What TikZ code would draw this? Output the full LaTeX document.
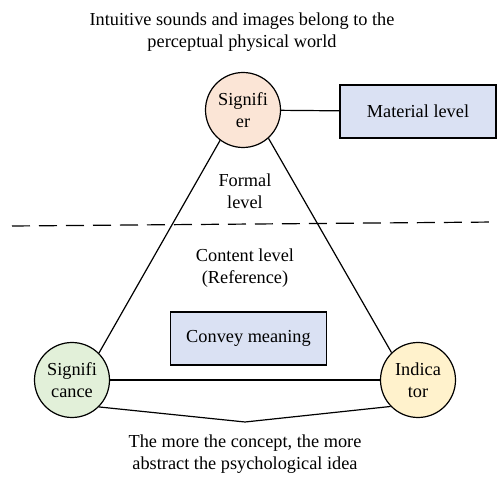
\documentclass[tikz,border=0pt]{standalone}
\usepackage{fontspec}
\setmainfont{Liberation Serif}
\usepackage{tikz}

\definecolor{peach}{HTML}{FBE5D6}
\definecolor{palegreen}{HTML}{E2F0D9}
\definecolor{paleyellow}{HTML}{FFF2CC}
\definecolor{paleblue}{HTML}{DAE1F3}

\begin{document}
\begin{tikzpicture}[x=1pt, y=1pt, line width=1.2pt,
    font=\fontsize{18.3}{22.5}\selectfont,
    sign/.style={circle, draw, minimum size=75pt, inner sep=0pt, align=center},
    levelbox/.style={rectangle, draw, fill=paleblue, minimum width=156pt, minimum height=53pt},
    caption/.style={align=center}]

    \useasboundingbox (0, 0) rectangle (497, 476);

    \node[caption] (top) at (242, 444) {Intuitive sounds and images belong to the\\perceptual physical world};

    \node[sign, fill=peach] (signifier) at (243, 366) {Signifi\\er};
    \node[sign, fill=palegreen] (significance) at (72, 96) {Signifi\\cance};
    \node[sign, fill=paleyellow] (indicator) at (418, 96) {Indica\\tor};

    \node[levelbox] (material) at (418, 364.5) {Material level};
    \node[levelbox] (convey) at (248.5, 137.5) {Convey meaning};

    \node[caption] (formal) at (245, 285) {Formal\\level};
    \node[caption] (content) at (245, 208) {Content level\\(Reference)};
    \node[caption] (bottom) at (245, 22) {The more the concept, the more\\abstract the psychological idea};

    \coordinate (apex) at (245, 54);
    \coordinate (dashleft) at (12, 250);
    \coordinate (dashright) at (497, 254);

    \draw (signifier) -- (material);
    \draw (signifier.233) -- (significance.45);
    \draw (signifier.312) -- (indicator.134);
    \draw (significance) -- (indicator);
    \draw (significance.315) -- (apex) -- (indicator.224);

    \draw[dash pattern=on 18pt off 9pt] (dashleft) -- (dashright);

\end{tikzpicture}
\end{document}
